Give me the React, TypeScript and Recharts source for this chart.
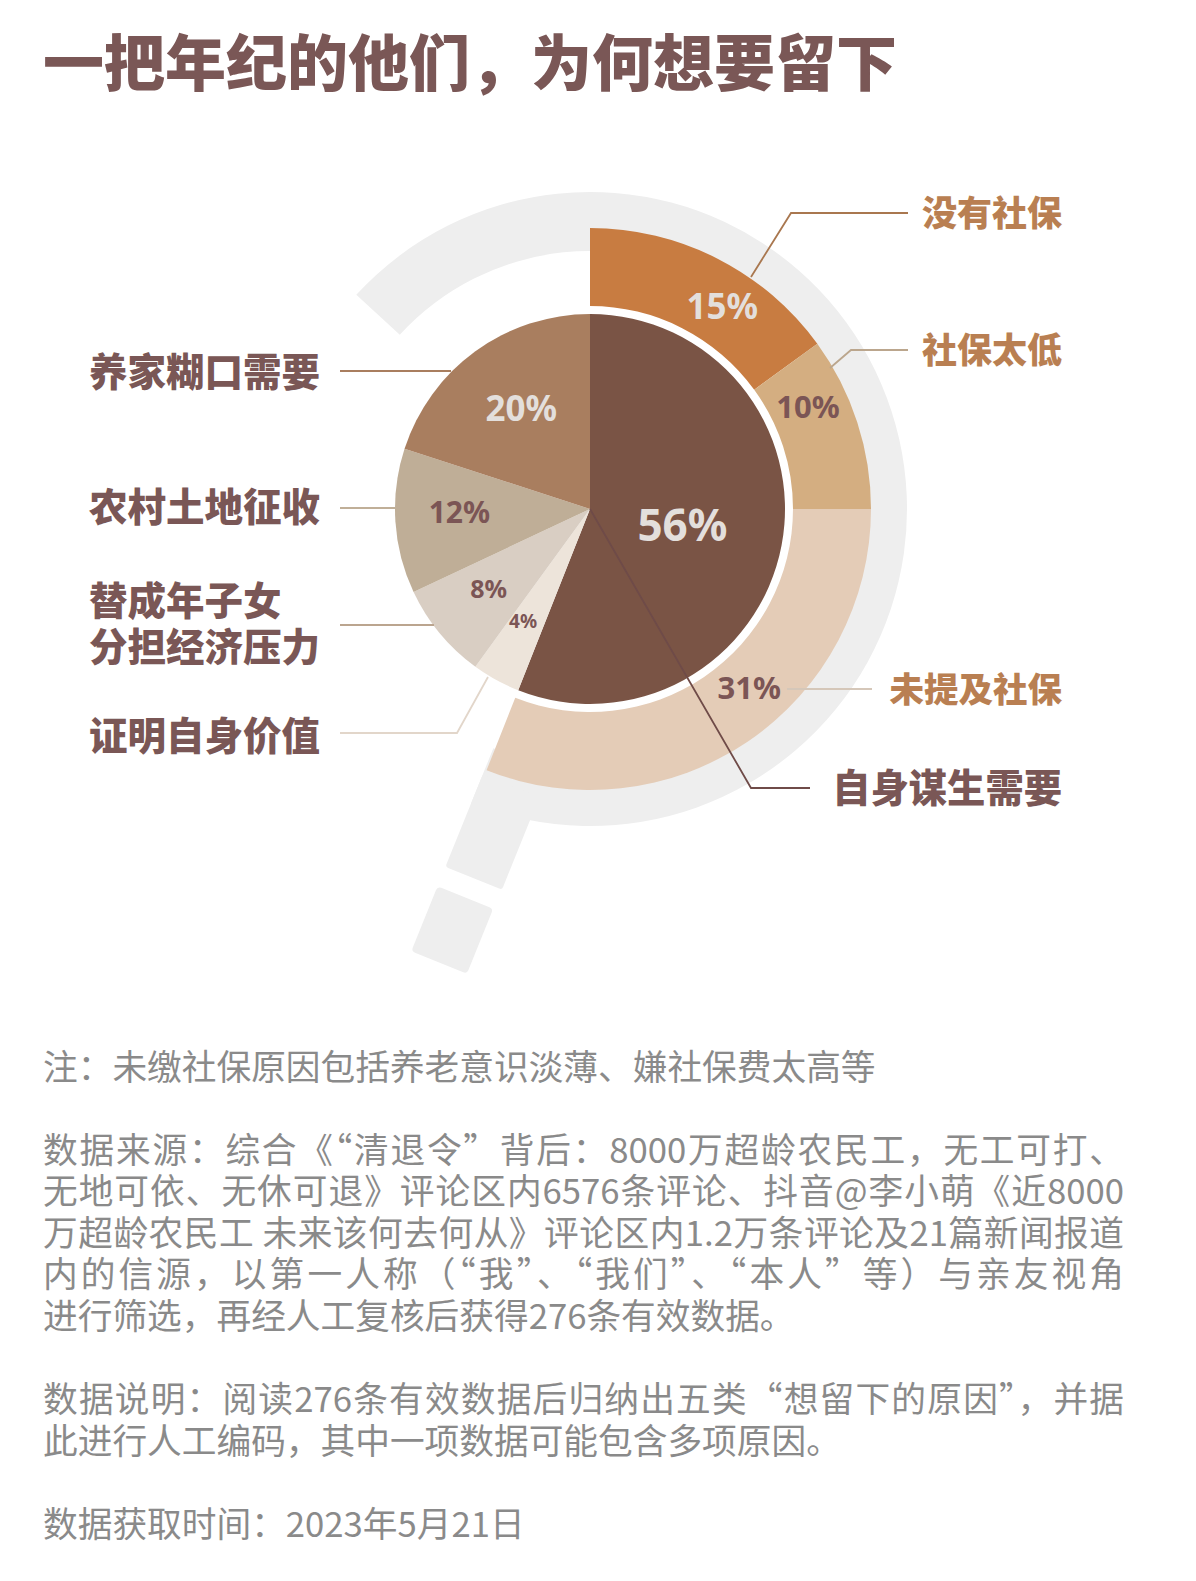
import React from "react";
import { PieChart, Pie, Cell } from "recharts";

/* ── Data ── */
const reasons = [
  { name: "自身谋生需要", value: 56 },
  { name: "证明自身价值", value: 4 },
  { name: "替成年子女分担经济压力", value: 8 },
  { name: "农村土地征收", value: 12 },
  { name: "养家糊口需要", value: 20 },
];
const reasonColors = ["#7a5445", "#ede4da", "#d9cec3", "#bfae97", "#a97e5f"];

const insurance = [
  { name: "没有社保", value: 15 },
  { name: "社保太低", value: 10 },
  { name: "未提及社保", value: 31 },
];
const insuranceColors = ["#c87c41", "#d4ae81", "#e4ccb7"];

const noteLines = [
  { text: "注：未缴社保原因包括养老意识淡薄、嫌社保费太高等", full: false },
  { text: "", full: false },
  { text: "数据来源：综合《“清退令”背后：8000万超龄农民工，无工可打、", full: true },
  { text: "无地可依、无休可退》评论区内6576条评论、抖音@李小萌《近8000", full: true },
  { text: "万超龄农民工 未来该何去何从》评论区内1.2万条评论及21篇新闻报道", full: true },
  { text: "内的信源，以第一人称（“我”、“我们”、“本人”等）与亲友视角", full: true },
  { text: "进行筛选，再经人工复核后获得276条有效数据。", full: false },
  { text: "", full: false },
  { text: "数据说明：阅读276条有效数据后归纳出五类“想留下的原因”，并据", full: true },
  { text: "此进行人工编码，其中一项数据可能包含多项原因。", full: false },
  { text: "", full: false },
  { text: "数据获取时间：2023年5月21日", full: false },
];

/* ── Layout ── */
const CX = 590;
const CY = 509;
const FONT = '"Noto Sans CJK SC", "Noto Sans", sans-serif';
const LIGHT = "#e3dfdc";
const DARK = "#7b5555";

// label look per slice: at = radial position (0..1), turn = clockwise nudge (deg)
const labelLook: Record<string, { at: number; turn: number; size: number; color: string }> = {
  自身谋生需要: { at: 0.48, turn: -1.8, size: 44, color: LIGHT },
  证明自身价值: { at: 0.67, turn: 2, size: 19, color: DARK },
  替成年子女分担经济压力: { at: 0.66, turn: 1.6, size: 25, color: DARK },
  农村土地征收: { at: 0.67, turn: 2.6, size: 30, color: DARK },
  养家糊口需要: { at: 0.63, turn: 2, size: 35, color: LIGHT },
  没有社保: { at: 0.51, turn: 6, size: 35, color: LIGHT },
  社保太低: { at: 0.49, turn: -7.3, size: 31, color: DARK },
  未提及社保: { at: 0.46, turn: -7.6, size: 31, color: DARK },
};

const RAD = Math.PI / 180;
function renderLabel(p: any) {
  const look = labelLook[p.name];
  const ang = (p.midAngle - look.turn) * RAD;
  const r = p.innerRadius + (p.outerRadius - p.innerRadius) * look.at;
  const x = p.cx + r * Math.cos(ang);
  const y = p.cy - r * Math.sin(ang);
  return (
    <text
      x={x}
      y={y}
      textAnchor="middle"
      dominantBaseline="central"
      fill={look.color}
      fontSize={look.size}
      fontWeight={700}
      fontFamily='"Noto Sans", sans-serif'
    >
      {p.value}%
    </text>
  );
}

// ring segment, angles clockwise from 12 o'clock
function ringPath(r0: number, r1: number, a0: number, a1: number) {
  const pt = (a: number, r: number) =>
    `${CX + r * Math.sin(a * RAD)} ${CY - r * Math.cos(a * RAD)}`;
  const large = a1 - a0 > 180 ? 1 : 0;
  return `M ${pt(a0, r1)} A ${r1} ${r1} 0 ${large} 1 ${pt(a1, r1)} L ${pt(a1, r0)} A ${r0} ${r0} 0 ${large} 0 ${pt(a0, r0)} Z`;
}

const leaders = [
  { pts: "751,277 791,213 908,213", color: "#a9774f" },
  { pts: "830,368 851,350 908,350", color: "#bba68d" },
  { pts: "787,689 872,689", color: "#d5c7b9" },
  { pts: "590,509 751,788 810,788", color: "#6f4b48" },
  { pts: "340,371 451,371", color: "#a97e5f" },
  { pts: "340,508 395,508", color: "#c0af98" },
  { pts: "340,625 434,625", color: "#bba58f" },
  { pts: "340,733 457,733 488,677", color: "#e2d6ca" },
];

const textLabels = [
  { lines: ["养家糊口需要"], left: 89, y: 371, size: 38.5, color: "#7a5756" },
  { lines: ["农村土地征收"], left: 89, y: 506, size: 38.5, color: "#7a5756" },
  { lines: ["替成年子女", "分担经济压力"], left: 89, y: 600, size: 38.5, color: "#7a5756" },
  { lines: ["证明自身价值"], left: 89, y: 735, size: 38.5, color: "#7a5756" },
  { lines: ["没有社保"], right: 1062, y: 213, size: 35, color: "#b97f52" },
  { lines: ["社保太低"], right: 1062, y: 350, size: 35, color: "#b97f52" },
  { lines: ["未提及社保"], right: 1062, y: 689, size: 34.5, color: "#b97f52" },
  { lines: ["自身谋生需要"], right: 1062, y: 788, size: 38.3, color: "#7a5756" },
];

export default function App() {
  const insuranceShare = insurance.reduce((s, d) => s + d.value, 0);
  return (
    <div
      style={{
        position: "absolute",
        left: 0,
        top: 0,
        width: 1196,
        height: 1581,
        background: "#fff",
        overflow: "hidden",
        fontFamily: FONT,
      }}
    >
      {/* title */}
      <div
        style={{
          position: "absolute",
          left: 43,
          top: 62 - 30.5 - 3,
          fontSize: 61,
          lineHeight: "61px",
          fontWeight: 900,
          color: "#7a5756",
          whiteSpace: "nowrap",
        }}
      >
        一把年纪的他们，为何想要留下
      </div>

      {/* question mark backdrop */}
      <svg width={1196} height={1000} style={{ position: "absolute", left: 0, top: 0 }}>
        <path d={ringPath(258, 317, -47.5, 202)} fill="#eeeeee" />
        <g transform={`translate(${CX} ${CY}) rotate(202)`} fill="#eeeeee">
          <rect x={-61} y={-386} width={61} height={100} rx={3} />
          <rect x={-60} y={-477} width={60} height={70} rx={4} />
        </g>
      </svg>

      <div style={{ position: "absolute", left: 0, top: 0 }}>
        <PieChart width={1196} height={1000} margin={{ top: 0, right: 0, bottom: 0, left: 0 }}>
          <Pie
            data={insurance}
            dataKey="value"
            nameKey="name"
            cx={CX}
            cy={CY}
            innerRadius={203}
            outerRadius={281}
            startAngle={90}
            endAngle={90 - (360 * insuranceShare) / 100}
            stroke="none"
            label={renderLabel}
            labelLine={false}
            isAnimationActive={false}
          >
            {insurance.map((d, i) => (
              <Cell key={d.name} fill={insuranceColors[i]} />
            ))}
          </Pie>
          <Pie
            data={reasons}
            dataKey="value"
            nameKey="name"
            cx={CX}
            cy={CY}
            innerRadius={0}
            outerRadius={195}
            startAngle={90}
            endAngle={-270}
            stroke="none"
            label={renderLabel}
            labelLine={false}
            isAnimationActive={false}
          >
            {reasons.map((d, i) => (
              <Cell key={d.name} fill={reasonColors[i]} />
            ))}
          </Pie>
        </PieChart>
      </div>

      {/* leader lines */}
      <svg width={1196} height={1000} style={{ position: "absolute", left: 0, top: 0 }}>
        {leaders.map((l, i) => (
          <polyline key={i} points={l.pts} fill="none" stroke={l.color} strokeWidth={1.8} />
        ))}
      </svg>

      {textLabels.map((t) => (
        <div
          key={t.lines.join("")}
          style={{
            position: "absolute",
            top: t.y - 23 - t.size * 0.05,
            left: t.left,
            right: t.right !== undefined ? 1196 - t.right : undefined,
            fontSize: t.size,
            lineHeight: "46px",
            fontWeight: 900,
            color: t.color,
            whiteSpace: "nowrap",
            textAlign: t.right !== undefined ? "right" : "left",
          }}
        >
          {t.lines.map((ln) => (
            <div key={ln}>{ln}</div>
          ))}
        </div>
      ))}

      {/* notes */}
      <div
        style={{
          position: "absolute",
          left: 43,
          top: 1067 - 20.8 - 1.7,
          width: 1081,
          fontSize: 34.7,
          lineHeight: "41.6px",
          color: "#8a8a8a",
        }}
      >
        {noteLines.map((l, i) => (
          <div
            key={i}
            style={{
              height: 41.6,
              whiteSpace: "nowrap",
              textAlign: l.full ? "justify" : "left",
              textAlignLast: l.full ? "justify" : "left",
            }}
          >
            {l.text}
          </div>
        ))}
      </div>
    </div>
  );
}
